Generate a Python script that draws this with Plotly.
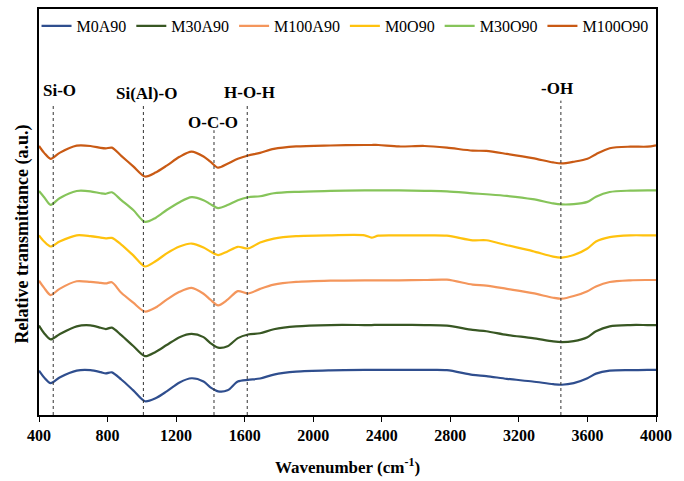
import plotly.graph_objects as go

# Wavenumber grid (cm-1)
wavenumber = [400, 430, 468, 520, 620, 700, 760, 790, 825, 880, 950, 1018, 1080, 1145, 1220,
              1290, 1360, 1400, 1445, 1500, 1560, 1620, 1690, 1770, 1900, 2100, 2300, 2340,
              2380, 2500, 2650, 2780, 2930, 3010, 3130, 3280, 3400, 3450, 3520, 3600, 3650,
              3730, 3850, 3950, 4000]

# Relative transmittance (a.u., stacked spectra)
M0A90 = [45.0, 38.0, 32.3, 38.0, 45.0, 45.5, 43.5, 42.2, 43.3, 36.0, 25.0, 14.0, 17.0, 24.0,
         33.0, 37.3, 34.0, 28.0, 24.0, 25.0, 34.0, 35.7, 37.0, 41.0, 44.0, 45.3, 45.7, 45.7,
         45.7, 45.7, 45.7, 45.5, 40.7, 39.5, 36.7, 34.0, 31.3, 30.7, 32.3, 37.3, 42.0, 45.0,
         45.5, 45.7, 45.7]
M30A90 = [90.7, 83.0, 76.7, 82.0, 90.0, 91.0, 88.5, 87.2, 88.7, 81.0, 70.0, 59.7, 64.0, 71.0,
          79.0, 82.3, 79.0, 73.0, 68.3, 69.7, 78.0, 81.7, 83.0, 87.0, 90.0, 91.3, 91.3, 91.3,
          91.5, 91.5, 91.3, 90.7, 86.3, 85.0, 81.3, 78.0, 74.7, 74.0, 75.0, 79.0, 85.0, 90.0,
          91.3, 91.3, 91.3]
M100A90 = [136.3, 129.0, 121.7, 128.0, 135.7, 135.0, 134.0, 133.5, 134.7, 124.0, 114.0, 105.0,
           109.0, 117.0, 125.0, 129.0, 123.0, 117.0, 111.3, 117.0, 125.7, 123.3, 128.0, 132.3,
           135.0, 136.3, 136.7, 136.7, 136.7, 136.7, 137.0, 137.3, 132.3, 131.3, 128.0, 123.7,
           119.0, 118.0, 120.7, 125.7, 130.5, 135.0, 136.7, 137.0, 137.0]
M0O90 = [182.3, 176.0, 171.0, 176.0, 182.3, 181.5, 180.0, 179.3, 179.7, 173.0, 162.0, 150.7,
         156.0, 164.0, 171.0, 174.0, 170.0, 166.0, 162.3, 166.0, 170.7, 169.0, 175.0, 179.0,
         181.5, 182.3, 182.3, 180.0, 182.0, 182.3, 182.3, 182.0, 177.3, 177.3, 172.3, 166.3,
         160.7, 159.7, 162.3, 169.0, 176.0, 180.5, 182.3, 182.3, 182.3]
M30O90 = [227.3, 221.0, 213.3, 220.0, 227.3, 227.0, 225.0, 224.5, 226.0, 218.0, 208.0, 196.0,
          200.0, 208.0, 216.0, 221.0, 218.0, 214.0, 210.0, 213.0, 218.0, 221.0, 222.0, 225.0,
          226.5, 227.5, 228.0, 228.0, 228.0, 228.0, 227.5, 227.0, 225.0, 224.0, 222.3, 219.0,
          214.7, 213.7, 214.0, 216.3, 221.5, 226.3, 227.7, 228.0, 228.0]
M100O90 = [273.0, 266.0, 260.0, 266.0, 273.3, 273.0, 271.0, 270.5, 271.3, 263.0, 252.3, 242.0,
           246.0, 253.0, 262.0, 267.3, 262.3, 257.0, 251.0, 255.0, 260.0, 263.3, 266.0, 270.0,
           272.5, 273.5, 274.0, 274.0, 274.0, 272.5, 273.0, 271.3, 268.3, 268.0, 265.0, 260.7,
           256.3, 255.3, 257.0, 260.0, 264.7, 270.7, 272.3, 272.3, 273.7]

series_names = ["M0A90", "M30A90", "M100A90", "M0O90", "M30O90", "M100O90"]
series_values = [M0A90, M30A90, M100A90, M0O90, M30O90, M100O90]
series_colors = ["#2F4E8E", "#385723", "#F4965C", "#FFC20E", "#86C45A", "#C95A14"]

# Band assignments
band_labels = ["Si-O", "Si(Al)-O", "O-C-O", "H-O-H", "-OH"]
band_wavenumbers = [483, 1009, 1421, 1615, 3445]

x_ticks = [400, 800, 1200, 1600, 2000, 2400, 2800, 3200, 3600, 4000]

FONT = "Liberation Serif"

fig = go.Figure()
for name, vals, col in zip(series_names, series_values, series_colors):
    fig.add_trace(go.Scatter(
        x=wavenumber, y=vals, name=name, mode="lines",
        line=dict(color=col, width=2.2, shape="spline", smoothing=0.8),
    ))

# dotted band markers and labels
line_tops = [315, 315, 289, 315, 319]
label_pos = [(520, 329), (1030, 326), (1415, 297), (1628, 327), (3420, 331)]
for wn, top, lab, (lx, ly) in zip(band_wavenumbers, line_tops, band_labels, label_pos):
    fig.add_shape(type="line", xref="x", yref="y", x0=wn, x1=wn, y0=0, y1=top,
                  line=dict(color="#333333", width=1, dash="dot"))
    fig.add_annotation(x=lx, y=ly, xref="x", yref="y", text="<b>%s</b>" % lab,
                       showarrow=False, font=dict(family=FONT, size=17, color="black"))

fig.add_annotation(x=-0.026, y=0.447, xref="paper", yref="paper",
                   xanchor="center", yanchor="middle",
                   text="<b>Relative transmittance (a.u.)</b>", textangle=-90,
                   showarrow=False, font=dict(family=FONT, size=18, color="black"))

fig.update_layout(
    width=684, height=481,
    margin=dict(l=39, r=28, t=7, b=62),
    paper_bgcolor="white", plot_bgcolor="white",
    font=dict(family=FONT, color="black"),
    showlegend=True,
    legend=dict(orientation="h", x=-0.004, xanchor="left", y=1.0001, yanchor="top",
                font=dict(family=FONT, size=16, color="black"),
                bgcolor="rgba(0,0,0,0)", itemwidth=30),
    xaxis=dict(range=[400, 4000], tickvals=x_ticks, ticktext=[str(t) for t in x_ticks],
               showline=True, linecolor="black", linewidth=1.5, mirror=True,
               ticks="outside", ticklen=5, tickcolor="black", tickwidth=1,
               showgrid=False, zeroline=False,
               tickfont=dict(family=FONT, size=16, color="black", weight="bold"),
               title=dict(text="<b>Wavenumber (cm<sup>-1</sup>)</b>", standoff=18,
                          font=dict(family=FONT, size=17, color="black"))),
    yaxis=dict(range=[0, 412], showline=True, linecolor="black", linewidth=1.5,
               mirror=True, showticklabels=False, ticks="", showgrid=False,
               zeroline=False),
)

fig.write_html("out.html", config={"displayModeBar": False},
               post_script="document.body.style.margin='0';")
